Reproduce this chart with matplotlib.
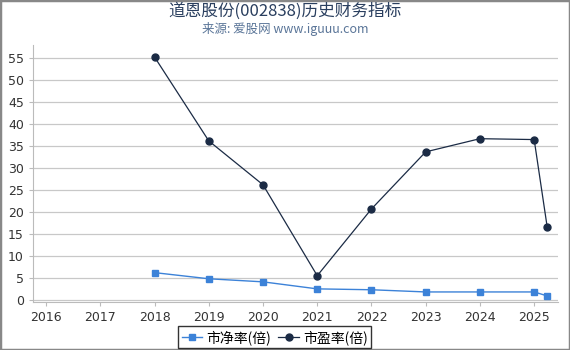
import matplotlib
matplotlib.use("Agg")
import matplotlib.pyplot as plt
from matplotlib.patches import Rectangle

plt.rcParams['font.family'] = ['Noto Sans CJK SC', 'DejaVu Sans']

years = [2018, 2019, 2020, 2021, 2022, 2023, 2024, 2025, 2025.24]
pb = [6.2, 4.8, 4.1, 2.5, 2.3, 1.8, 1.8, 1.8, 0.9]
pe = [55.3, 36.2, 26.2, 5.5, 20.7, 33.7, 36.7, 36.5, 16.6]
xticks = list(range(2016, 2026))
yticks = list(range(0, 60, 5))

fig = plt.figure(figsize=(5.7, 3.5), dpi=100)
ax = fig.add_axes([0.058, 0.137, 0.921, 0.734])

ax.plot(years, pb, color='#3c82d8', marker='s', markersize=5, linewidth=1, label='市净率(倍)')
ax.plot(years, pe, color='#1b2b45', marker='o', markersize=5, linewidth=0.9, label='市盈率(倍)')

ax.set_xlim(2015.76, 2025.44)
ax.set_ylim(-0.5, 58)
ax.set_xticks(xticks)
ax.set_yticks(yticks)
ax.grid(axis='y', color='#c8c8c8', linewidth=0.9)
ax.set_axisbelow(True)
for s in ['top', 'right']:
    ax.spines[s].set_visible(False)
for s in ['left', 'bottom']:
    ax.spines[s].set_color('#bbbbbb')
ax.tick_params(axis='both', colors='#bbbbbb', labelcolor='#333333', labelsize=9, length=3)
for lab in ax.get_xticklabels() + ax.get_yticklabels():
    lab.set_family('DejaVu Sans')

leg = fig.legend(*ax.get_legend_handles_labels(), loc='center', bbox_to_anchor=(0.482, 0.036),
                 ncol=2, frameon=True, fontsize=10, handlelength=1.5, handletextpad=0.3,
                 columnspacing=0.5, borderpad=0.25, fancybox=False)
leg.get_frame().set_edgecolor('black')
leg.get_frame().set_linewidth(1)

fig.text(0.5, 0.967, '道恩股份(002838)历史财务指标', ha='center', va='center', fontsize=12, color='#2a3f5f')
fig.text(0.5, 0.918, '来源: 爱股网 www.iguuu.com', ha='center', va='center', fontsize=9, color='#5a7598')

fig.patches.append(Rectangle((0, 0), 1, 1, transform=fig.transFigure, fill=False,
                             edgecolor='#888888', linewidth=2.5))

fig.savefig('out.png', dpi=100)
